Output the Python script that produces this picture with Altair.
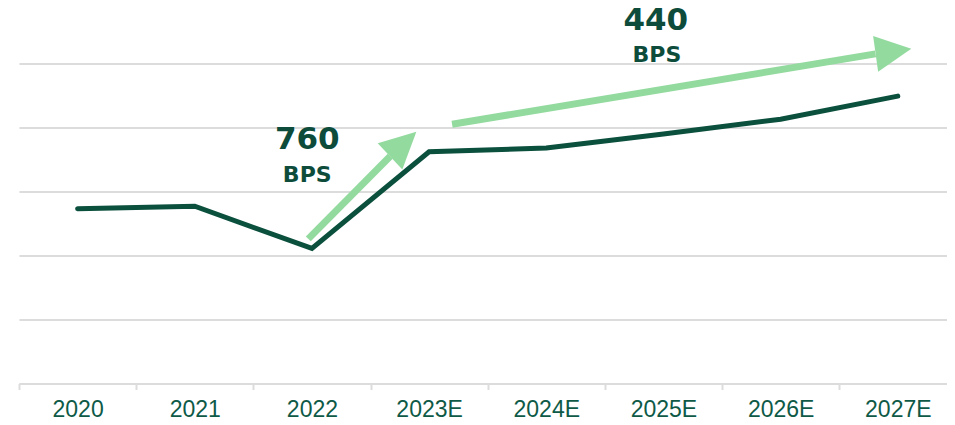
import altair as alt
import pandas as pd

# ---- data ----
years = ["2020", "2021", "2022", "2023E", "2024E", "2025E", "2026E", "2027E"]
values = [2.73, 2.77, 2.11, 3.62, 3.68, 3.90, 4.13, 4.49]

# arrows: shaft start/end and head centre (x in category units, y in grid units)
arrow_id = ["a1", "a2"]
arrow_x0 = [2.469, 3.696]
arrow_y0 = [2.26, 4.05]
arrow_x1 = [3.168, 7.310]
arrow_y1 = [3.55, 5.15]
head_x = [3.279, 7.463]
head_y = [3.74, 5.19]
head_angle = [47, 82]

# annotations
note_text = ["760", "BPS", "440", "BPS"]
note_x = [2.46, 2.46, 5.435, 5.444]
note_y = [3.80, 3.26, 5.66, 5.13]
note_size = [31, 22, 31, 22]

DARK = "#0b4f3d"
LIGHT = "#93da9f"
GRID = "#dcdcdc"

line_df = pd.DataFrame({"x": [i + 0.5 for i in range(len(years))], "y": values, "year": years})
shaft_rows = []
for i, a in enumerate(arrow_id):
    shaft_rows.append({"id": a, "order": 0, "x": arrow_x0[i], "y": arrow_y0[i]})
    shaft_rows.append({"id": a, "order": 1, "x": arrow_x1[i], "y": arrow_y1[i]})
shaft_df = pd.DataFrame(shaft_rows)
head_df = pd.DataFrame({"x": head_x, "y": head_y, "angle": head_angle})
note_df = pd.DataFrame({"t": note_text, "x": note_x, "y": note_y, "s": note_size})

label_expr = "datum.value < 8 ? [" + ",".join("'" + y + "'" for y in years) + "][datum.value] : ''"

x_scale = alt.Scale(domain=[0, 7.92], nice=False, zero=False)
y_scale = alt.Scale(domain=[0, 5], nice=False, zero=True)

x_axis = alt.Axis(
    values=list(range(8)), labelExpr=label_expr, labelOffset=58.6, labelAlign="center",
    grid=False, domainColor=GRID, domainWidth=2, tickColor=GRID, tickWidth=2, tickSize=6,
    labelPadding=9, labelFont="Liberation Sans", labelFontSize=23, labelColor="#0e5a47",
    title=None, labelFlush=False, labelOverlap=False,
)
y_axis = alt.Axis(
    values=[0, 1, 2, 3, 4, 5], labels=False, ticks=False, domain=False, grid=True,
    gridColor=GRID, gridWidth=2, title=None,
)

base_x = alt.X("x:Q", scale=x_scale, axis=x_axis)
base_y = alt.Y("y:Q", scale=y_scale, axis=y_axis)

line = alt.Chart(line_df).mark_line(color=DARK, strokeWidth=5, strokeCap="round", strokeJoin="miter").encode(
    x=base_x, y=base_y
)

shafts = alt.Chart(shaft_df).mark_line(color=LIGHT, strokeWidth=7, strokeCap="butt").encode(
    x=alt.X("x:Q", scale=x_scale), y=alt.Y("y:Q", scale=y_scale), detail="id:N", order="order:Q"
)

heads = alt.Chart(head_df).mark_point(
    shape="M0,-1L1,1L-1,1Z", filled=True, color=LIGHT, opacity=1, size=1296, strokeWidth=0
).encode(
    x=alt.X("x:Q", scale=x_scale), y=alt.Y("y:Q", scale=y_scale), angle=alt.Angle("angle:Q", scale=None)
)

notes = alt.Chart(note_df).mark_text(
    font="DejaVu Sans", fontWeight="bold", color="#0d4c3a", align="center", baseline="middle"
).encode(
    x=alt.X("x:Q", scale=x_scale), y=alt.Y("y:Q", scale=y_scale), text="t:N",
    size=alt.Size("s:Q", scale=None, legend=None),
)

chart = alt.layer(line, shafts, heads, notes).properties(
    width=928, height=320,
    autosize=alt.AutoSizeParams(type="none"),
    padding={"left": 11, "top": 55.5, "right": 0, "bottom": 33},
).configure_view(stroke=None)

chart.save("out.html", embed_options={"renderer": "svg", "actions": False})
